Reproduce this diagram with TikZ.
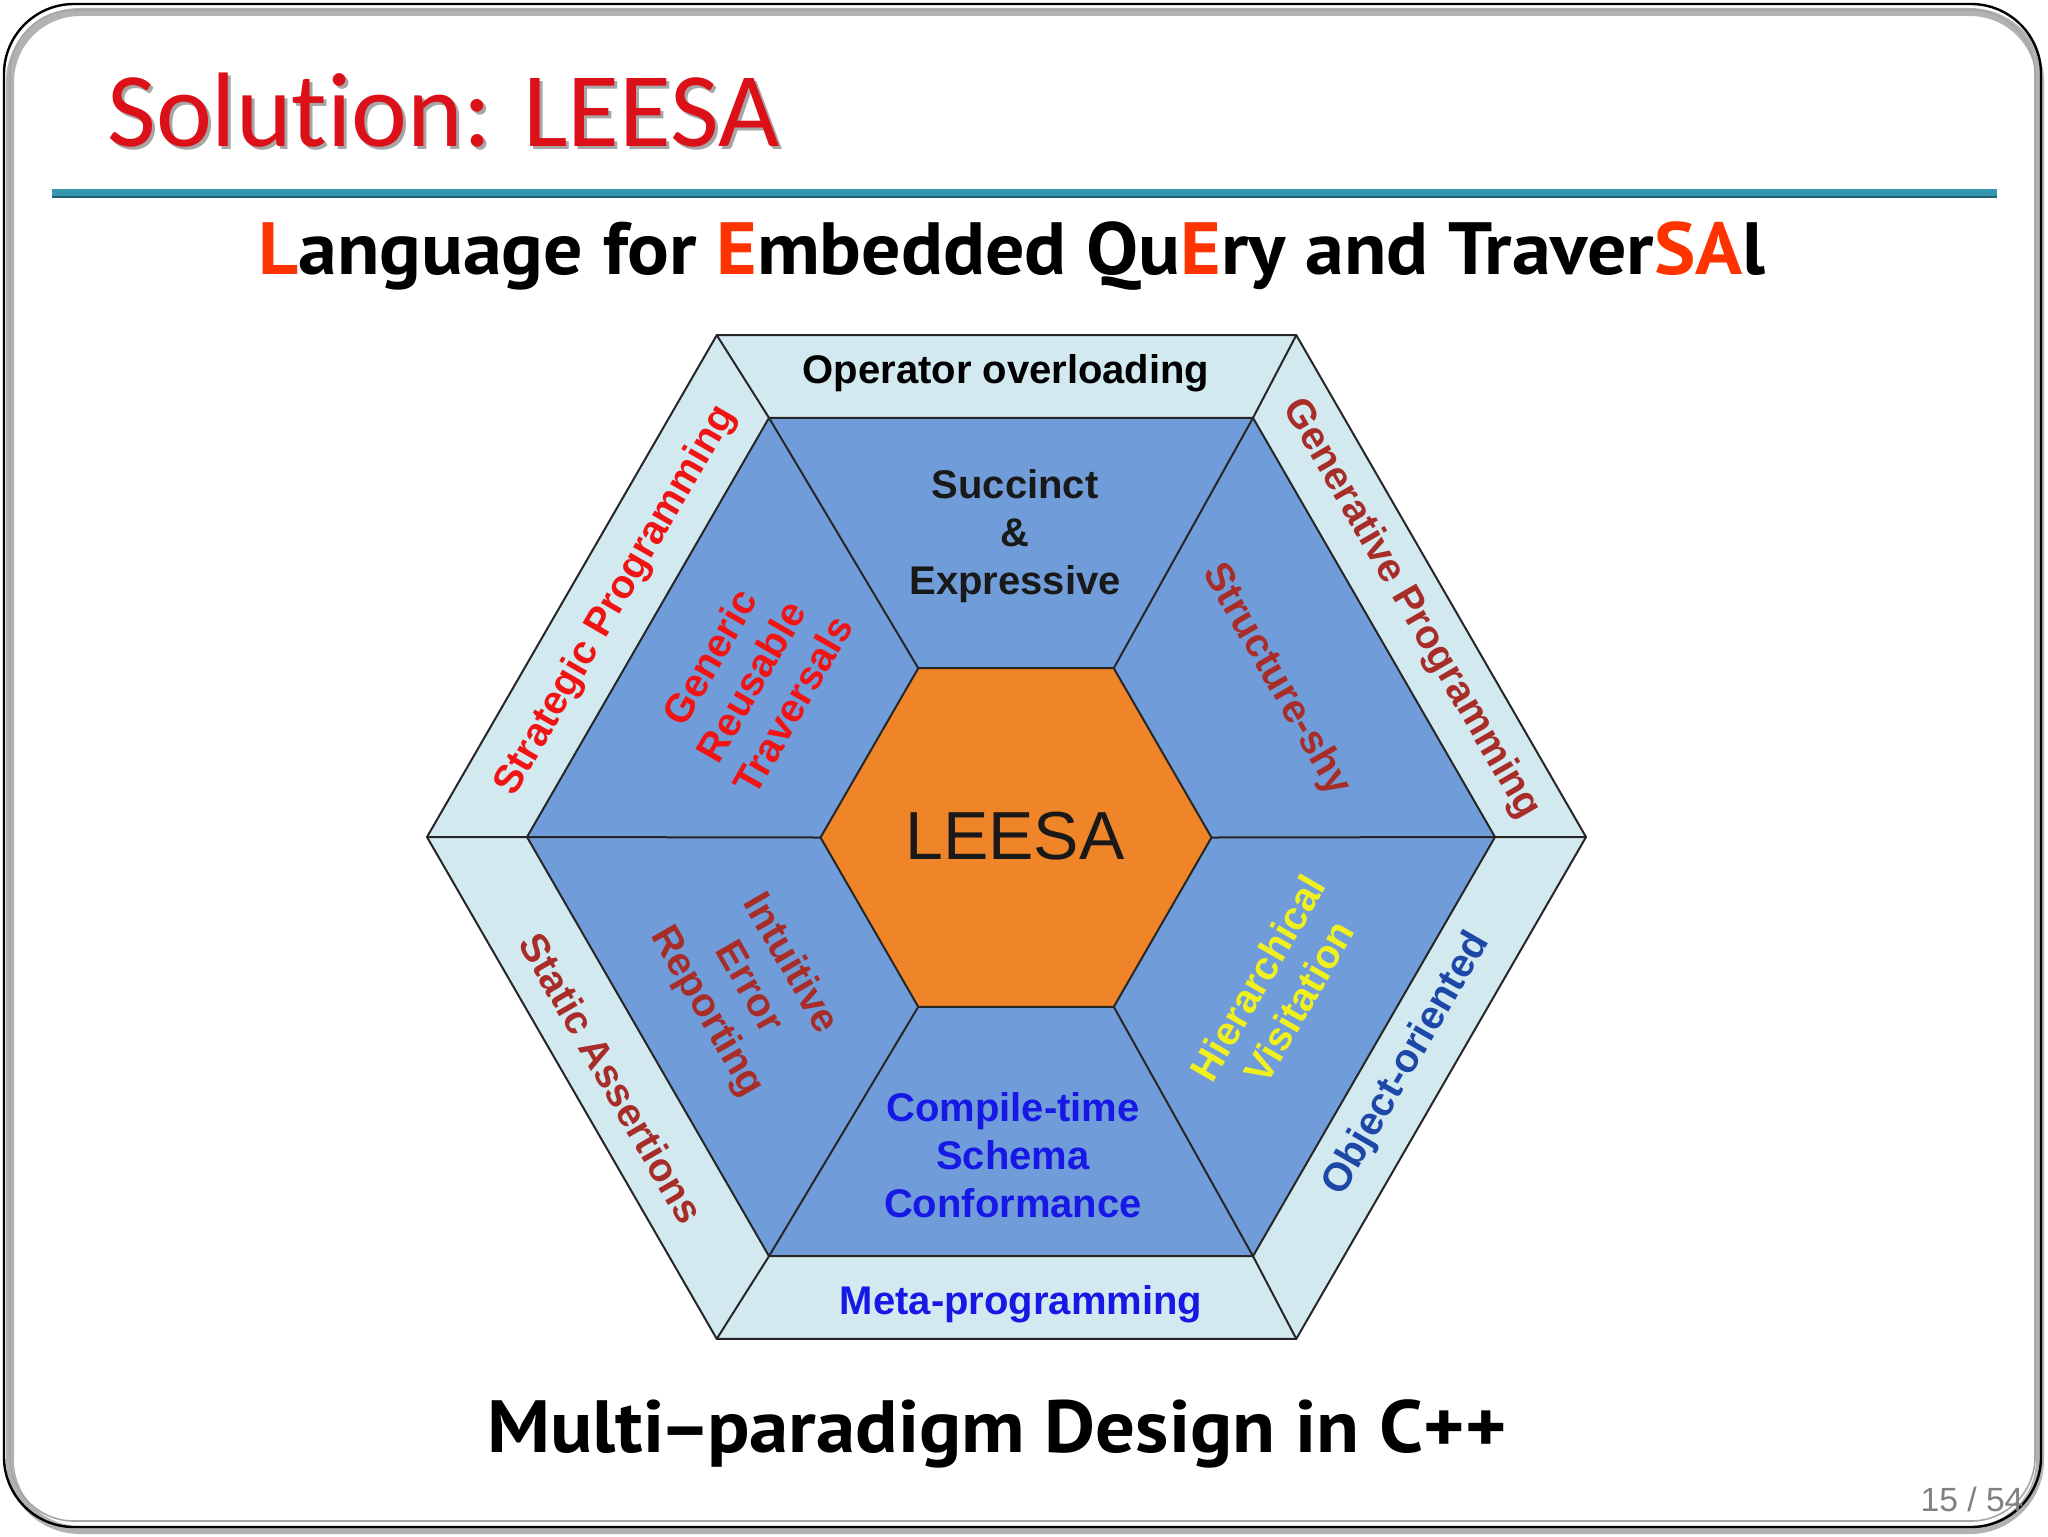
\documentclass[tikz,border=0pt]{standalone}
\usepackage{fontspec}
\setmainfont{Liberation Sans}
\newfontfamily\titlefont[Ligatures=NoCommon]{Carlito}
\newfontfamily\subfont{PT Sans}
\usetikzlibrary{calc}

\definecolor{band}{RGB}{210,233,240}
\definecolor{hexblue}{RGB}{112,157,218}
\definecolor{hexorange}{RGB}{240,132,40}
\definecolor{brred}{RGB}{168,44,40}
\definecolor{brightred}{RGB}{240,20,20}
\definecolor{hyellow}{RGB}{240,240,30}
\definecolor{oblue}{RGB}{30,72,168}
\definecolor{cblue}{RGB}{24,24,230}
\definecolor{titlered}{RGB}{220,16,24}
\definecolor{accent}{RGB}{255,51,0}
\definecolor{rulecol}{RGB}{52,150,175}

\begin{document}
\begin{tikzpicture}[x=0.5pt,y=-0.5pt,
  lbl/.style={font=\bfseries\fontsize{20}{24}\selectfont, align=center, inner sep=0pt},
  edgeline/.style={draw=black!85, line width=1pt, line join=miter},
  ]
\useasboundingbox (0,0) rectangle (2048,1536);
\fill[white] (0,0) rectangle (2048,1536);
% frame
\draw[black!30, line width=4pt, rounded corners=35pt] (10,12) rectangle (2040,1530);
\draw[black, line width=1.2pt, rounded corners=35pt] (4,4) rectangle (2041,1527);
\draw[black!35, line width=0.8pt, rounded corners=32pt] (10,10) rectangle (2035,1521);

% title
\node[anchor=base west, inner sep=0pt, font=\titlefont\fontsize{53}{53}\selectfont, text=black!35] (titleshadow) at (110,149) {Solution: LEESA};
\node[anchor=base west, inner sep=0pt, font=\titlefont\fontsize{53}{53}\selectfont, text=titlered] (title) at (107,146) {Solution: LEESA};

% rule
\coordinate (ruleL) at (52,193);
\coordinate (ruleR) at (1997,193);
\draw[rulecol, line width=4.5pt] (ruleL) -- (ruleR);
\draw[rulecol!65!black, line width=1pt] ($(ruleL)+(0,4)$) -- ($(ruleR)+(0,4)$);

% subtitle
\node[anchor=base, inner sep=0pt, font=\subfont\bfseries\fontsize{37}{37}\selectfont] (sub) at (1012,274)
  {\scalebox{1.053}[1]{\textcolor{accent}{L}anguage for \textcolor{accent}{E}mbedded Qu\textcolor{accent}{E}ry and Traver\textcolor{accent}{SA}l}};

% hexagon geometry
\coordinate (O) at (1006.5,837);
\coordinate (B) at (1011,837);
\coordinate (C) at (1016,837.5);
\foreach \i in {0,...,5}{
  \coordinate (o\i) at ($(O)+(\i*60:579.5)$);
  \coordinate (b\i) at ($(B)+(\i*60:484)$);
  \coordinate (c\i) at ($(C)+(\i*60:195.5)$);
}
\filldraw[fill=band, edgeline] (o0)--(o1)--(o2)--(o3)--(o4)--(o5)--cycle;
\filldraw[fill=hexblue, edgeline] (b0)--(b1)--(b2)--(b3)--(b4)--(b5)--cycle;
\filldraw[fill=hexorange, edgeline] (c0)--(c1)--(c2)--(c3)--(c4)--(c5)--cycle;
\foreach \i in {0,...,5}{
  \draw[edgeline] (o\i) -- (b\i) -- (c\i);
}

% labels
\node[lbl, text=black] (op) at (1006,373) {Operator overloading};
\node[lbl, text=black!90] (succ) at (1015,536) {Succinct\\\&\\Expressive};
\node[inner sep=0pt, font=\fontsize{34}{34}\selectfont, text=black!90] (leesa) at (1015,836) {LEESA};
\node[lbl, text=cblue] (comp) at (1013,1155) {Compile-time\\Schema\\Conformance};
\node[lbl, text=cblue] (meta) at (1021,1304) {Meta-programming};
\node[lbl, text=brightred, rotate=60] (strat) at (616,601) {Strategic Programming};
\node[lbl, text=brightred, rotate=60] (gen) at (751,681) {Generic\\Reusable\\Traversals};
\node[lbl, text=brred, rotate=-60] (struct) at (1276,680) {Structure-shy};
\node[lbl, text=brred, rotate=-60] (genp) at (1411,609) {Generative Programming};
\node[lbl, text=oblue, rotate=60] (oo) at (1407,1064) {Object-oriented};
\node[lbl, text=hyellow, rotate=60] (hier) at (1278,990) {Hierarchical\\Visitation};
\node[lbl, text=brred, rotate=-60] (stat) at (612,1078) {Static Assertions};
\node[lbl, text=brred, rotate=-60] (intu) at (748,988) {Intuitive\\Error\\Reporting};

% bottom text
\node[anchor=base, inner sep=0pt, font=\subfont\bfseries\fontsize{37}{37}\selectfont] (bottom) at (997,1452) {\scalebox{1.065}[1]{Multi\kern-0.06em–\kern-0.06em paradigm Design in C++}};

% page number
\node[inner sep=0pt, text=black!50, font=\fontsize{16.8}{17}\selectfont] (pg) at (1972,1499) {15 / 54};
\end{tikzpicture}
\end{document}
